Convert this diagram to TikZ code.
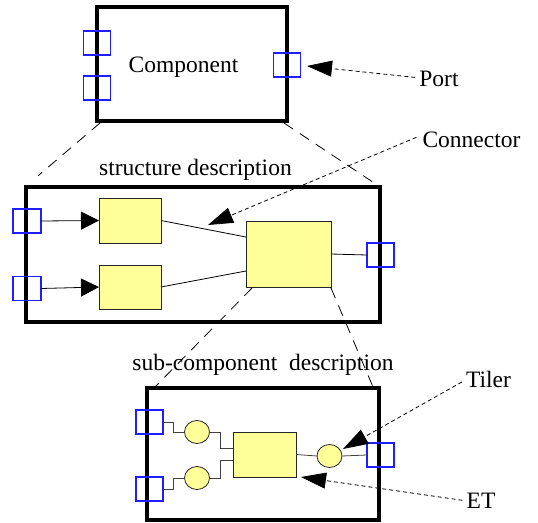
\documentclass[tikz,border=0pt]{standalone}
\usepackage{fontspec}
\setmainfont{Liberation Serif}
\newfontfamily\figserif{Liberation Serif}
\usetikzlibrary{arrows.meta,shapes.geometric,calc}
\definecolor{portblue}{RGB}{30,30,255}
\definecolor{partyellow}{RGB}{255,255,153}
\begin{document}
\begin{tikzpicture}[x=1pt,y=-1pt,
  frame/.style={draw=black,line width=4.6pt,inner sep=0pt,outer sep=0pt},
  portbox/.style={draw=portblue,color=portblue,line width=1.1pt,inner sep=0pt,outer sep=0pt,
    minimum width=27pt,minimum height=24pt},
  part/.style={draw=black!85,fill=partyellow,line width=0.8pt,inner sep=0pt,outer sep=0pt},
  tiler/.style={ellipse,draw=black!85,fill=partyellow,line width=0.8pt,inner sep=0pt,
    outer sep=0pt,minimum width=25pt,minimum height=23pt},
  wire/.style={draw=black!75,line width=0.8pt},
  zoomline/.style={draw=black,line width=0.8pt,dash pattern=on 11pt off 8pt},
  pointer/.style={draw=black,line width=0.8pt,dash pattern=on 4pt off 3pt},
  txt/.style={inner sep=0pt,font=\figserif\fontsize{23.5}{28}\selectfont},
  bighead/.style={-{Triangle[length=25pt,width=16pt]}},
  flowhead/.style={-{Triangle[length=18pt,width=18pt]}}
]
\useasboundingbox (0,0) rectangle (538,522);

% ---- top level component ----
\node[frame,minimum width=190pt,minimum height=114pt] (top) at (192,64) {};
\node[txt,anchor=base] (comp) at (183.5,72) {Component};
\node[portbox] (tp1) at (97,43) {};
\node[portbox] (tp2) at (97,88) {};
\node[portbox] (tp3) at (287,65) {};

% ---- structure description ----
\node[txt,anchor=base] (structtxt) at (195.5,175) {structure description};
\node[frame,minimum width=354pt,minimum height=135pt] (mid) at (203,254.5) {};
\node[part,minimum width=62pt,minimum height=45pt] (pa) at (130,220.5) {};
\node[part,minimum width=62pt,minimum height=44pt] (pb) at (130,287) {};
\node[part,minimum width=85pt,minimum height=66pt] (pc) at (288.5,254) {};
\node[portbox,minimum width=28pt] (mp1) at (27,221) {};
\node[portbox,minimum width=28pt] (mp2) at (27,288.5) {};
\node[portbox] (mp3) at (380.5,255) {};

\draw[wire,draw=black,flowhead] (mp1.east) -- (pa.west);
\draw[wire,draw=black,flowhead] (mp2.east) -- (pb.west);
\draw[wire,draw=black] (pa.east) -- ([yshift=17pt]pc.west);
\draw[wire,draw=black] (pb.east) -- ([yshift=-17pt]pc.west);
\draw[wire,draw=black] (pc.east) -- (mp3.west);

% ---- sub-component description ----
\node[txt,anchor=base] (subtxt) at (263,370) {sub-component\ \ description};
\node[frame,minimum width=232pt,minimum height=132pt] (sub) at (263,454) {};
\node[tiler] (e1) at (197,432) {};
\node[tiler] (e2) at (197,478) {};
\node[tiler] (e3) at (329.5,456) {};
\node[part,minimum width=63pt,minimum height=45pt] (pd) at (264.5,454.5) {};
\node[portbox] (sp1) at (149.5,422) {};
\node[portbox] (sp2) at (149.5,489) {};
\node[portbox] (sp3) at (380.5,455) {};

\draw[wire] (sp1.east) -- ++(10,0) |- (e1.west);
\draw[wire] (sp2.east) -- ++(10,0) |- (e2.west);
\draw[wire] (e1.east) -- ++(11,0) |- ([yshift=6.5pt]pd.west);
\draw[wire] (e2.east) -- ++(11,0) |- ([yshift=-5.5pt]pd.west);
\draw[wire] (pd.east) -- (e3.west);
\draw[wire] (e3.east) -- (sp3.west);

% ---- zoom guide lines ----
\draw[zoomline] ([xshift=3pt,yshift=-2pt]top.south west) -- ($(top.south west)!0.83!(mid.north west)$);
\draw[zoomline] ([xshift=-3pt,yshift=-2pt]top.south east) -- ($(top.south east)!0.96!(mid.north east)$);
\draw[zoomline] ([xshift=6pt,yshift=-1pt]pc.south west) -- ([xshift=8pt,yshift=1pt]sub.north west);
\draw[zoomline] ([yshift=-1pt]pc.south east) -- ([xshift=-6pt,yshift=1pt]sub.north east);

% ---- annotations ----
\node[txt,anchor=base] (porttxt) at (439,86) {Port};
\node[txt,anchor=base] (conntxt) at (471.5,147) {Connector};
\node[txt,anchor=base] (tilertxt) at (488.5,387) {Tiler};
\node[txt,anchor=base] (ettxt) at (481,508) {ET};

\coordinate (porttip) at (307,66);
\coordinate (conntip) at (208,225);
\coordinate (tilertip) at (343,449);
\coordinate (ettip) at (301,477);

\draw[pointer,bighead] ([xshift=-4pt,yshift=1pt]porttxt.west) -- (porttip);
\draw[pointer,bighead] ([xshift=-6pt,yshift=2pt]conntxt.west) -- (conntip);
\draw[pointer,bighead] ([xshift=-4pt,yshift=-3pt]tilertxt.west) -- (tilertip);
\draw[pointer,bighead] ([xshift=-4pt]ettxt.west) -- (ettip);
\end{tikzpicture}
\end{document}
